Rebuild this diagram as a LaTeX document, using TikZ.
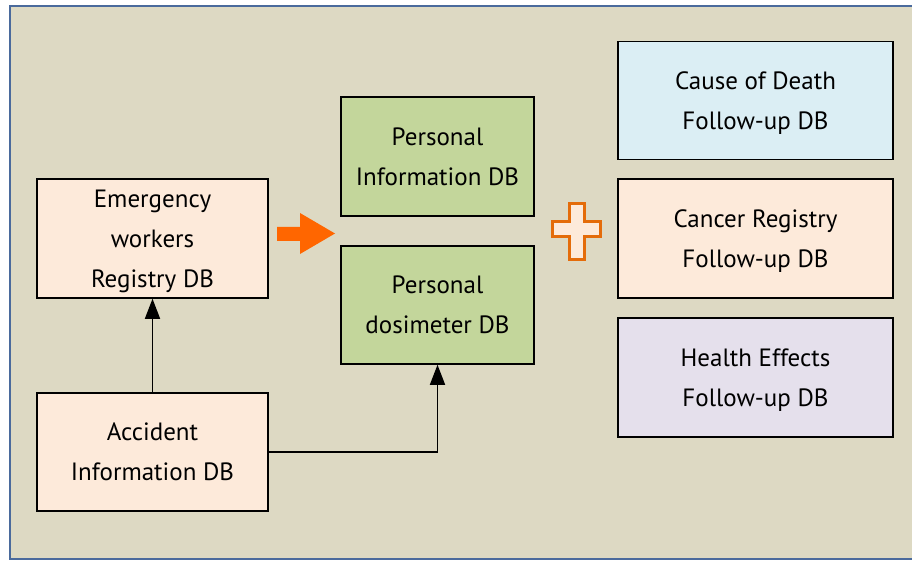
\documentclass[tikz,border=0pt]{standalone}
\usepackage{fontspec}
\setmainfont{PT Sans}
\usetikzlibrary{positioning,arrows.meta}
\definecolor{bgtan}{HTML}{DDD9C3}
\definecolor{framebl}{HTML}{4A6A9C}
\definecolor{peach}{HTML}{FDEADA}
\definecolor{leaf}{HTML}{C3D69B}
\definecolor{skyblue}{HTML}{DBEEF4}
\definecolor{lavender}{HTML}{E5E0EC}
\definecolor{arrorange}{HTML}{FF6600}
\definecolor{plusorange}{HTML}{E46C0A}

\begin{document}
\begin{tikzpicture}[x=1pt,y=-1pt,
    dbbox/.style={draw=black, line width=1.5pt, align=center, inner sep=0pt,
      text depth=0pt, font=\fontsize{25}{40}\selectfont},
    link/.style={draw=black, line width=1.5pt, -{Triangle[length=20pt,width=15pt]}}]
  \useasboundingbox (0,0) rectangle (912,561);
  \fill[bgtan] (10,6) rectangle (912,559);
  \draw[framebl, line width=2pt] (912,6) -- (10,6) -- (10,559) -- (912,559);

  \node[dbbox, fill=peach, minimum width=231pt, minimum height=119pt] (emerg) at (152.5,238.5) {Emergency\\workers\\Registry DB};
  \node[dbbox, fill=peach, minimum width=231pt, minimum height=118pt] (accid) at (152.5,452) {Accident\\Information DB};

  \node[dbbox, fill=leaf, minimum width=193pt, minimum height=119pt] (pinfo) at (437.5,156.5) {Personal\\Information DB};
  \node[dbbox, fill=leaf, minimum width=193pt, minimum height=118pt] (dosim) at (437.5,305) {Personal\\dosimeter DB};

  \node[dbbox, fill=skyblue, minimum width=275pt, minimum height=118pt] (death) at (755.5,100.5) {Cause of Death\\Follow-up DB};
  \node[dbbox, fill=peach, minimum width=275pt, minimum height=119pt] (cancer) at (755.5,238.5) {Cancer Registry\\Follow-up DB};
  \node[dbbox, fill=lavender, minimum width=275pt, minimum height=119pt] (health) at (755.5,377.5) {Health Effects\\Follow-up DB};

  % links
  \draw[link] (accid.north) -- (emerg.south);
  \draw[link] (accid.east |- 0,452) -| (dosim.south);

  % orange arrow
  \fill[arrorange] (277,227) -- (300,227) -- (300,213) -- (335,233.5) -- (300,254) -- (300,241) -- (277,241) -- cycle;

  % plus sign
  \draw[plusorange, fill=peach, line width=3pt]
    (569.5,203.5) -- (584.5,203.5) -- (584.5,221.5) -- (600.5,221.5) -- (600.5,236.5)
    -- (584.5,236.5) -- (584.5,259.5) -- (569.5,259.5) -- (569.5,236.5) -- (552.5,236.5)
    -- (552.5,221.5) -- (569.5,221.5) -- cycle;
\end{tikzpicture}
\end{document}
